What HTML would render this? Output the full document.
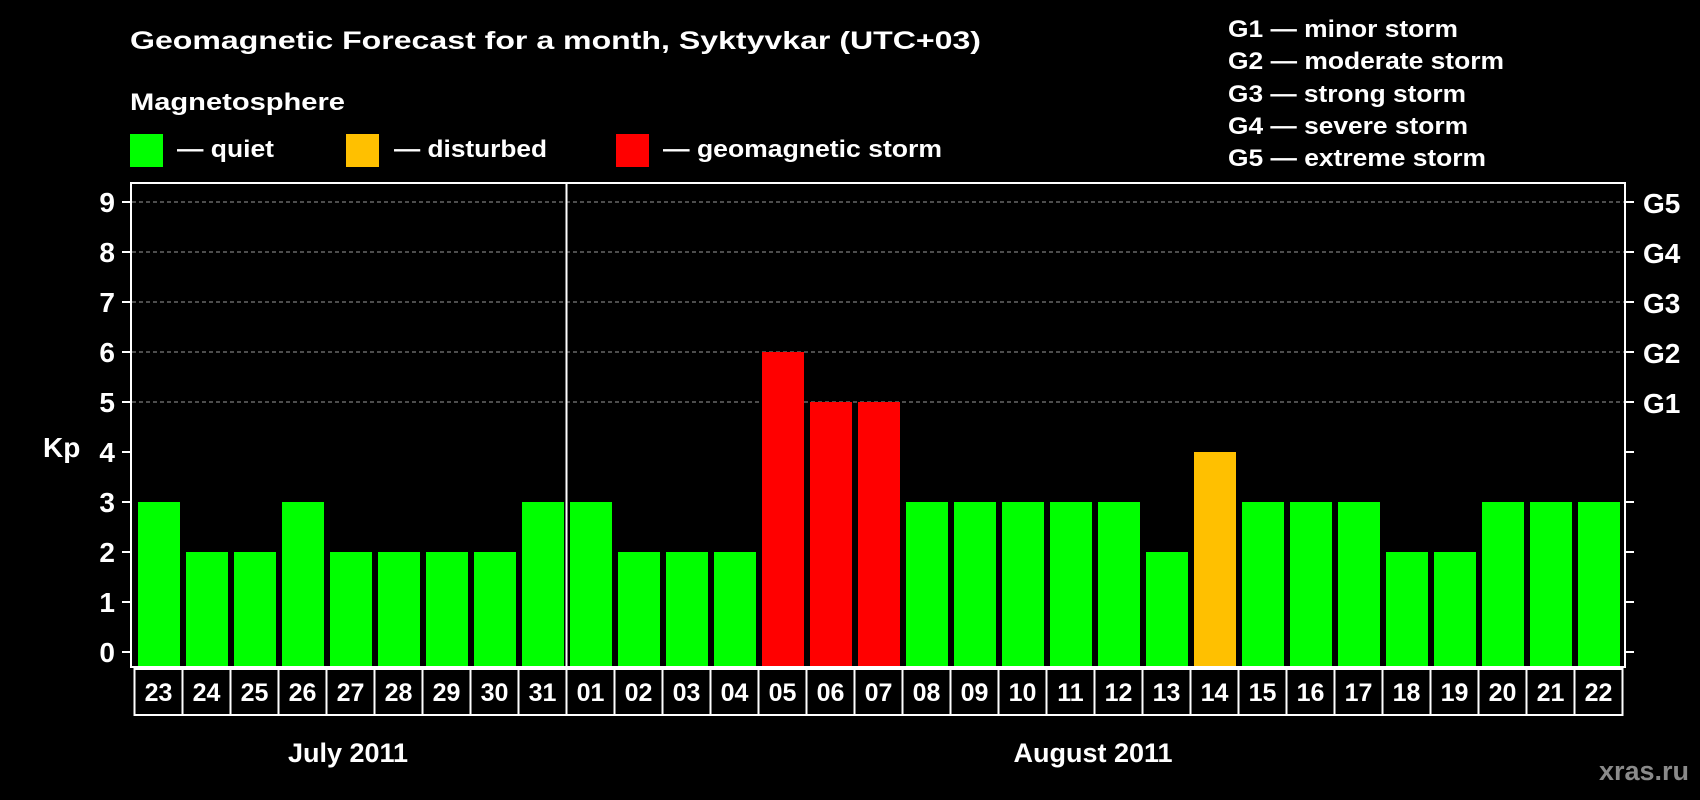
<!DOCTYPE html>
<html><head><meta charset="utf-8"><style>
html,body{margin:0;padding:0;background:#000;}
svg{display:block;font-family:"Liberation Sans",Arial,sans-serif;font-weight:bold;}
</style></head><body>
<svg id="chart" width="1700" height="800" viewBox="0 0 1700 800" xmlns="http://www.w3.org/2000/svg">
<rect width="1700" height="800" fill="#000"/>
<text x="130" y="49" fill="#fff" font-size="25" textLength="851" lengthAdjust="spacingAndGlyphs">Geomagnetic Forecast for a month, Syktyvkar (UTC+03)</text>
<text x="130" y="110" fill="#fff" font-size="24" textLength="215" lengthAdjust="spacingAndGlyphs">Magnetosphere</text>
<g>
<rect x="130" y="134" width="33" height="33" fill="#00ff00"/>
<text x="177" y="157" fill="#fff" font-size="24" textLength="97" lengthAdjust="spacingAndGlyphs">— quiet</text></g>
<g>
<rect x="346" y="134" width="33" height="33" fill="#ffc000"/>
<text x="394" y="157" fill="#fff" font-size="24" textLength="153" lengthAdjust="spacingAndGlyphs">— disturbed</text></g>
<g>
<rect x="616" y="134" width="33" height="33" fill="#ff0000"/>
<text x="663" y="157" fill="#fff" font-size="24" textLength="279" lengthAdjust="spacingAndGlyphs">— geomagnetic storm</text></g>
<g fill="#fff" font-size="24">
<text x="1228" y="37" textLength="230" lengthAdjust="spacingAndGlyphs">G1 — minor storm</text>
<text x="1228" y="69" textLength="276" lengthAdjust="spacingAndGlyphs">G2 — moderate storm</text>
<text x="1228" y="102" textLength="238" lengthAdjust="spacingAndGlyphs">G3 — strong storm</text>
<text x="1228" y="134" textLength="240" lengthAdjust="spacingAndGlyphs">G4 — severe storm</text>
<text x="1228" y="166" textLength="258" lengthAdjust="spacingAndGlyphs">G5 — extreme storm</text>
</g>
<text x="43" y="457" fill="#fff" font-size="28">Kp</text>
<g id="grid"></g>
<g id="bars"></g>
<rect x="131" y="183" width="1494" height="484" fill="none" stroke="#fff" stroke-width="2"/>
<g id="axes"></g>
<g id="days"></g>
<text x="348" y="762" fill="#fff" font-size="27" text-anchor="middle">July 2011</text>
<text x="1093" y="762" fill="#fff" font-size="27" text-anchor="middle">August 2011</text>
<text x="1689" y="780" fill="#8a8a8a" font-size="27" text-anchor="end">xras.ru</text>
</svg>
<script>
const days = ["23","24","25","26","27","28","29","30","31","01","02","03","04","05","06","07","08","09","10","11","12","13","14","15","16","17","18","19","20","21","22"];
const kpValues = [3,2,2,3,2,2,2,2,3,3,2,2,2,6,5,5,3,3,3,3,3,2,4,3,3,3,2,2,3,3,3];
const yTicks = [0,1,2,3,4,5,6,7,8,9];
const gLabels = ["G1","G2","G3","G4","G5"];
const gLevels = [5,6,7,8,9];
const monthBreakIndex = 9;

const NS = "http://www.w3.org/2000/svg";
const plotBottom = 667, y0 = 652, unit = 50;
const firstLeft = 138, pitch = 48, barW = 42;
const yScale = v => y0 - v * unit;
const xScale = i => firstLeft + i * pitch;
function mk(tag, attrs, parent){const e=document.createElementNS(NS,tag);for(const k in attrs)e.setAttribute(k,attrs[k]);parent.appendChild(e);return e;}
const grid=document.getElementById('grid'), bars=document.getElementById('bars'), axes=document.getElementById('axes'), dayG=document.getElementById('days');

gLevels.forEach((lv,i)=>{
  const l=mk('line',{x1:132,x2:1624,y1:yScale(lv),y2:yScale(lv),stroke:'#9a9a9a','stroke-width':1,'stroke-dasharray':'4,3'},grid);
  
  
  const t=mk('text',{x:1643,y:yScale(lv)+11,fill:'#fff','font-size':28},axes);
  t.textContent=gLabels[i];
  
  
});
yTicks.forEach(v=>{
  const y=yScale(v);
  const a=mk('line',{x1:122,x2:131,y1:y,y2:y,stroke:'#fff','stroke-width':2},axes);
  
  
  const b=mk('line',{x1:1625,x2:1634,y1:y,y2:y,stroke:'#fff','stroke-width':2},axes);
  
  
  const t=mk('text',{x:115,y:y+10,fill:'#fff','font-size':28,'text-anchor':'end'},axes);
  t.textContent=v;
  
  
});
kpValues.forEach((v,i)=>{
  const col = v>=5 ? '#ff0000' : (v>=4 ? '#ffc000' : '#00ff00');
  const r=mk('rect',{x:xScale(i),y:yScale(v),width:barW,height:plotBottom-yScale(v),fill:col},bars);
  
  
});
const sep=mk('line',{x1:xScale(monthBreakIndex)-3.5,x2:xScale(monthBreakIndex)-3.5,y1:183,y2:667,stroke:'#fff','stroke-width':2},axes);


days.forEach((d,i)=>{
  const cx=xScale(i)-3.5;
  const c=mk('rect',{x:cx,y:669,width:pitch,height:46,fill:'none',stroke:'#fff','stroke-width':2},dayG);
  
  
  const t=mk('text',{x:cx+pitch/2,y:701,fill:'#fff','font-size':25,'text-anchor':'middle'},dayG);
  t.textContent=d;
  
  
});
</script>
</body></html>
